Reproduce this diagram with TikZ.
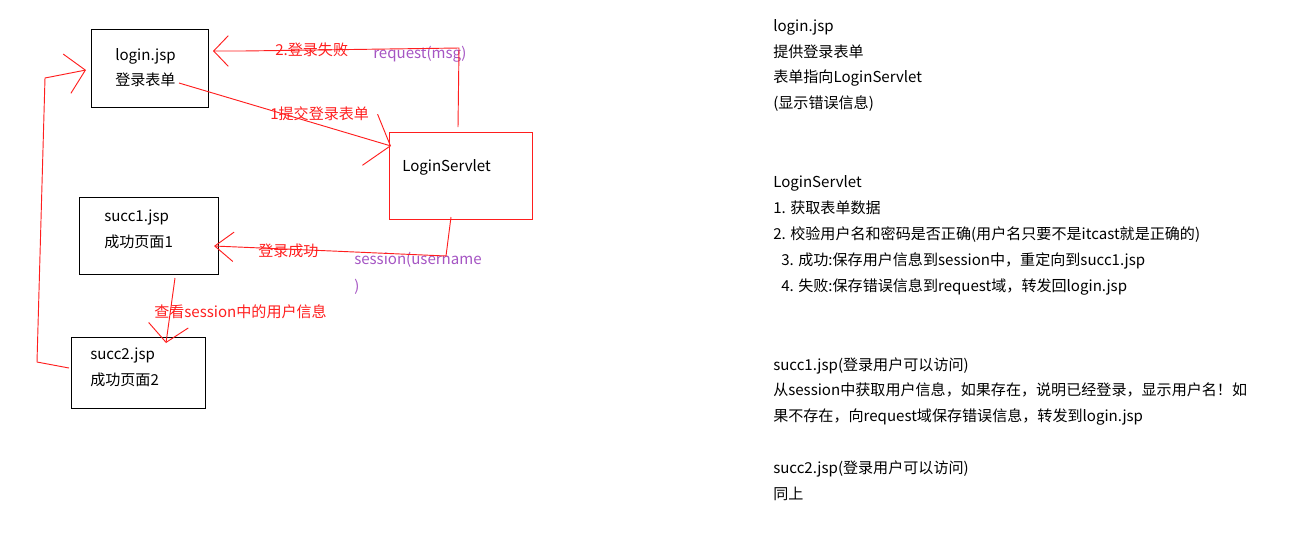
\documentclass[tikz,border=0pt]{standalone}
\usepackage{fontspec}
\setmainfont{Noto Sans CJK SC}
\usetikzlibrary{arrows.meta}
\definecolor{lred}{RGB}{255,30,30}
\definecolor{lpurple}{RGB}{165,85,195}
\begin{document}
\begin{tikzpicture}[x=0.75pt,y=-0.75pt,
  every node/.style={font=\fontsize{11.3}{13}\selectfont, inner sep=0pt},
  txt/.style={anchor=base west, text=black},
  lbl/.style={anchor=base west, text=lred},
  plbl/.style={anchor=base west, text=lpurple},
  jspbox/.style={draw=black, line width=0.7pt, rectangle},
  srvbox/.style={draw=lred, line width=0.7pt, rectangle},
  conn/.style={draw=lred, line width=0.7pt}]
\useasboundingbox (0,0) rectangle (1308,540);
% boxes
\node[jspbox, minimum width=87.75pt, minimum height=58.5pt] (login) at (149.5,68) {};
\node[srvbox, minimum width=107.25pt, minimum height=65.25pt] (servlet) at (460.5,175.5) {};
\node[jspbox, minimum width=104.25pt, minimum height=57.75pt] (succ1) at (148.5,235.5) {};
\node[jspbox, minimum width=100.5pt, minimum height=53.25pt] (succ2) at (138,372.5) {};
% box texts
\node[txt] (logint) at (115,60) {login.jsp};
\node[txt] (loginsub) at (115,85) {登录表单};
\node[txt] (servt) at (402,171) {LoginServlet};
\node[txt] (s1t) at (104,221) {succ1.jsp};
\node[txt] (s1sub) at (104,247) {成功页面1};
\node[txt] (s2t) at (90,359) {succ2.jsp};
\node[txt] (s2sub) at (90,385) {成功页面2};
% labels
\node[lbl] (lfail) at (275,55) {2.登录失败};
\node[plbl] (lreq) at (373,58) {request(msg)};
\node[lbl] (lsubmit) at (270,119) {1提交登录表单};
\node[lbl] (lsucc) at (258,256) {登录成功};
\node[plbl] (lsess) at (354,264) {session(username};
\node[plbl] (lsess2) at (354,291) {)};
\node[lbl] (lview) at (154,317) {查看session中的用户信息};
% coordinates
\coordinate (a1s) at (179,83);
\coordinate (a1t) at (391,146);
\coordinate (f0) at (458,127);
\coordinate (f1) at (459,48);
\coordinate (f2) at (243,51);
\coordinate (ft) at (213,51);
\coordinate (k0) at (451,217);
\coordinate (k1) at (446,256);
\coordinate (k2) at (332,251);
\coordinate (kt) at (214,246);
\coordinate (v0) at (175,278);
\coordinate (vt) at (166,343);
\coordinate (b0) at (69,368);
\coordinate (b1) at (37,362);
\coordinate (b2) at (45,78);
\coordinate (bt) at (86,70);
% connectors
\draw[conn, -{Straight Barb[length=16pt,width=40pt]}] (a1s) -- (a1t);
\draw[conn, -{Straight Barb[length=11pt,width=23pt]}] (f0) -- (f1) -- (f2) -- (ft);
\draw[conn, -{Straight Barb[length=14pt,width=22pt]}] (k0) -- (k1) -- (k2) -- (kt);
\draw[conn, -{Straight Barb[length=13pt,width=30pt]}] (v0) -- (vt);
\draw[conn, -{Straight Barb[length=14pt,width=30pt]}] (b0) -- (b1) -- (b2) -- (bt);
% right-hand notes
\node[txt] (r1) at (773,31) {login.jsp};
\node[txt] (r2) at (773,57) {提供登录表单};
\node[txt] (r3) at (773,82) {表单指向LoginServlet};
\node[txt] (r4) at (773,108) {(显示错误信息)};
\node[txt] (r5) at (773,187) {LoginServlet};
\node[txt] (r6) at (773,213) {1. 获取表单数据};
\node[txt] (r7) at (773,239) {2. 校验用户名和密码是否正确(用户名只要不是itcast就是正确的)};
\node[txt] (r8) at (781,265) {3. 成功:保存用户信息到session中，重定向到succ1.jsp};
\node[txt] (r9) at (781,291) {4. 失败:保存错误信息到request域，转发回login.jsp};
\node[txt] (r10) at (773,370) {succ1.jsp(登录用户可以访问)};
\node[txt] (r11) at (773,395) {从session中获取用户信息，如果存在，说明已经登录，显示用户名！如};
\node[txt] (r12) at (773,421) {果不存在，向request域保存错误信息，转发到login.jsp};
\node[txt] (r13) at (773,473) {succ2.jsp(登录用户可以访问)};
\node[txt] (r14) at (773,499) {同上};
\end{tikzpicture}
\end{document}
